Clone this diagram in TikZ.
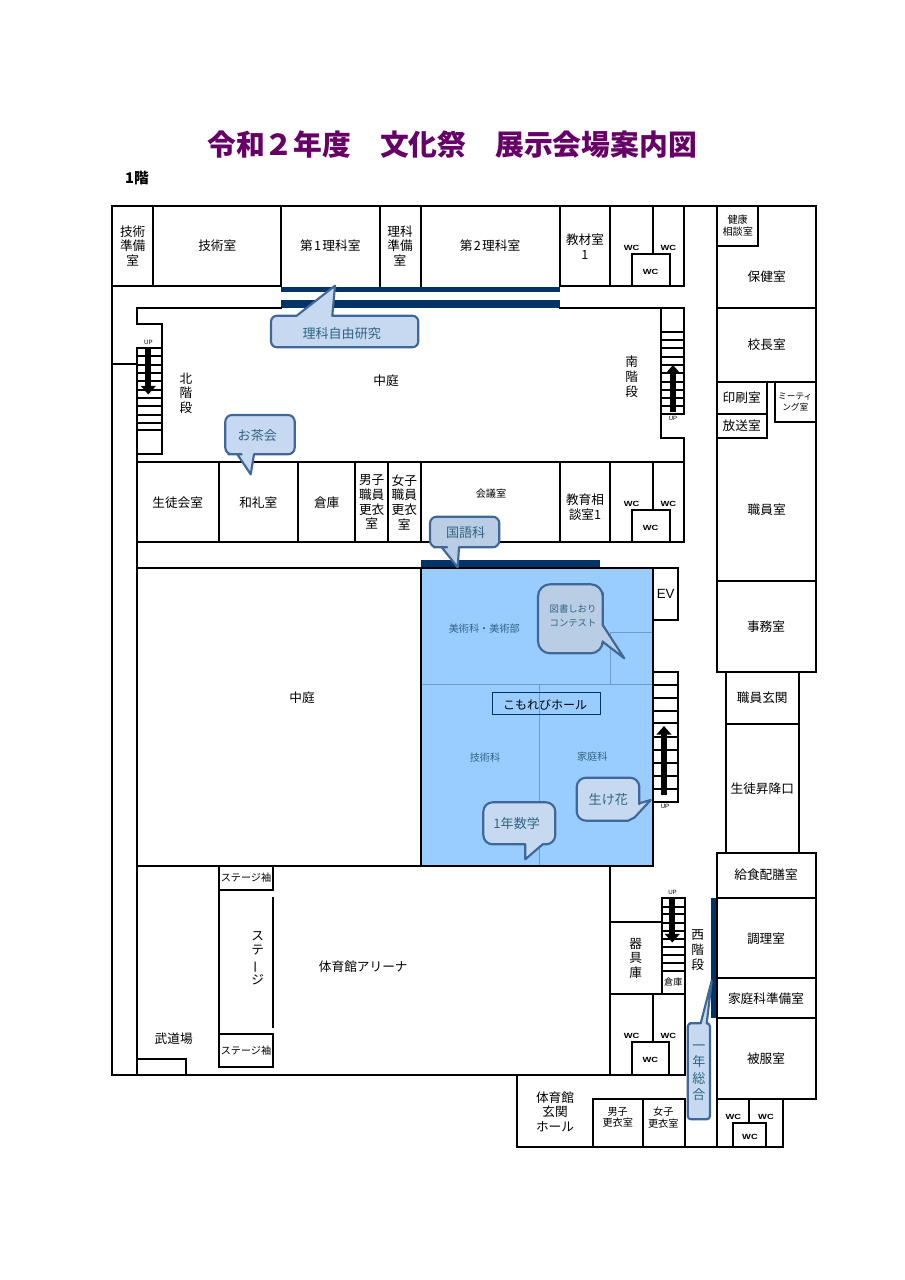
\documentclass[tikz,border=0pt]{standalone}
\usepackage{fontspec}
\usepackage{graphicx}
\usetikzlibrary{arrows.meta}
\setmainfont{Noto Sans CJK JP}
\newfontfamily\latinfont{Liberation Sans}
\definecolor{navybar}{HTML}{003366}
\definecolor{hallblue}{HTML}{99CCFF}
\definecolor{hallline}{HTML}{6C9BD2}
\definecolor{callline}{HTML}{3F6797}
\definecolor{callA}{HTML}{C6D9F1}
\definecolor{callB}{HTML}{B9CDE5}
\definecolor{calltext}{HTML}{2F6583}
\definecolor{titlepurple}{HTML}{660066}
\newcommand{\fsN}{\fontsize{9.5}{11}\selectfont}
\tikzset{
  wall/.style={draw=black,line width=1.5pt,line cap=rect,line join=miter},
  tread/.style={draw=black,line width=1.3pt},
  hallthin/.style={draw=hallline,line width=0.7pt},
  stairarrow/.style={line width=4.6pt,-{Triangle[width=11pt,length=6.5pt]},black},
  lab/.style={inner sep=0pt,align=center,font=\fsN,text=black},
  smalllab/.style={inner sep=0pt,align=center,font=\fontsize{7.6}{8.8}\selectfont,text=black},
  wclab/.style={inner sep=0pt,font=\latinfont\bfseries\fontsize{5.6}{6}\selectfont,xscale=1.25,text=black},
  uplab/.style={inner sep=0pt,font=\latinfont\fontsize{4.6}{5}\selectfont,text=black},
  callout/.style={draw=callline,line width=1.6pt,line join=round},
  calllab/.style={inner sep=0pt,align=center,text=calltext,font=\fontsize{9.8}{11}\selectfont},
  halllab/.style={inner sep=0pt,align=center,text=calltext,font=\fontsize{7.6}{9}\selectfont}
}
\begin{document}
\begin{tikzpicture}[x=0.75pt,y=-0.75pt]
\useasboundingbox (0,0) rectangle (904,1280);
\fill[white] (0,0) rectangle (904,1280);

% title
\node[inner sep=0pt,text=titlepurple,font=\bfseries\fontsize{21.6}{24}\selectfont] (title) at (452,145) {令和２年度　文化祭　展示会場案内図};
\node[inner sep=0pt,text=black,font=\bfseries\fontsize{11}{12}\selectfont] (floor) at (137,178) {1階};

% hall fill
\fill[hallblue] (421,568) rectangle (653,866);
\draw[hallthin] (421,684.5) -- (653,684.5);
\draw[hallthin] (539.5,684.5) -- (539.5,866);
\draw[hallthin] (610.3,684.5) -- (610.3,632.7) -- (653,632.7);

% navy bars
\fill[navybar] (281,286.5) rectangle (560,292);
\fill[navybar] (281,300) rectangle (560,308);
\fill[navybar] (421,560) rectangle (599.5,568);
\fill[navybar] (710.7,898) rectangle (717.3,1018);

% outer walls and top row
\draw[wall] (112,1075) -- (112,206.5) -- (815.5,206.5) -- (815.5,671.5);
\draw[wall] (112,286) -- (281,286);
\draw[wall] (560,286) -- (684,286);
\draw[wall] (153,206.5) -- (153,286);
\draw[wall] (281,206.5) -- (281,286);
\draw[wall] (380,206.5) -- (380,286);
\draw[wall] (420.7,206.5) -- (420.7,286);
\draw[wall] (560,206.5) -- (560,286);
\draw[wall] (610,206.5) -- (610,286);
\draw[wall] (653,206.5) -- (653,254);
\draw[wall] (684,206.5) -- (684,286);
\draw[wall] (631.7,286) -- (631.7,254) -- (669.5,254) -- (669.5,286);

% right block
\draw[wall] (717,206.5) -- (717,671.5) -- (815.5,671.5);
\draw[wall] (717,245.5) -- (758,245.5) -- (758,206.5);
\draw[wall] (717,308) -- (815.5,308);
\draw[wall] (717,381.5) -- (815.5,381.5);
\draw[wall] (766.5,381.5) -- (766.5,438) -- (717,438);
\draw[wall] (717,414) -- (766.5,414);
\draw[wall] (775,381.5) -- (775,422) -- (815.5,422);
\draw[wall] (717,581) -- (815.5,581);
\draw[wall] (725.7,671.5) -- (725.7,853);
\draw[wall] (799,671.5) -- (799,853);
\draw[wall] (725.7,723.5) -- (799,723.5);
\draw[wall] (717,1146.7) -- (717,853) -- (815.5,853) -- (815.5,1098.7) -- (717,1098.7);
\draw[wall] (717,898) -- (815.5,898);
\draw[wall] (717,978) -- (815.5,978);
\draw[wall] (717,1018) -- (815.5,1018);
\draw[wall] (782.7,1098.7) -- (782.7,1146.7);
\draw[wall] (749,1098.7) -- (749,1123);
\draw[wall] (733,1146.7) -- (733,1123) -- (766,1123) -- (766,1146.7);

% courtyard outline and north stairs
\draw[wall] (281,308) -- (137,308) -- (137,323.7) -- (161.7,323.7) -- (161.7,454) -- (137,454);
\draw[wall] (560,308) -- (684,308) -- (684,414);
\draw[wall] (661.3,308) -- (661.3,438) -- (684,438) -- (684,462);
\draw[wall] (137,347.7) -- (137,1075);
\draw[wall] (112,364) -- (137,364);
\draw[wall] (137,347.7) -- (161.7,347.7);
\foreach \yy in {356,365,373,381,390,398,406,415,423,430}
  \draw[tread] (137,\yy) -- (161.7,\yy);
\foreach \yy in {331.7,340,348,356.7,365,373,382,390,398,405.7,414}
  \draw[tread] (661.3,\yy) -- (684,\yy);

% second row
\draw[wall] (137,462) -- (684,462);
\draw[wall] (137,542) -- (684,542) -- (684,462);
\foreach \xx in {219,297.5,355,388,420.7,560,610}
  \draw[wall] (\xx,462) -- (\xx,542);
\draw[wall] (653,462) -- (653,510);
\draw[wall] (631.7,542) -- (631.7,510) -- (669.5,510) -- (669.5,542);

% hall and EV and stairs
\draw[wall] (137,568) -- (653,568);
\draw[wall] (421,568) -- (421,866);
\draw[wall] (653,568) -- (653,866);
\draw[wall] (137,866) -- (653,866);
\draw[wall] (653,568) -- (677.7,568) -- (677.7,619.5) -- (653,619.5);
\draw[wall] (653,671.7) -- (677.7,671.7) -- (677.7,801.7) -- (653,801.7);
\foreach \yy in {685,698.3,711,723.3,736.7,750,763.3,776,789.3}
  \draw[tread] (653,\yy) -- (677.7,\yy);
\draw[draw=navybar,line width=0.75pt,fill=none] (492,692) rectangle (600.7,714);

% gym
\draw[wall] (112,1075) -- (684.7,1075);
\draw[wall] (610,866) -- (610,1075);
\draw[wall] (610,922) -- (661.7,922);
\draw[wall] (661.7,898) -- (684.7,898) -- (684.7,1075);
\draw[wall] (661.7,898) -- (661.7,994.3);
\draw[wall] (610,994.3) -- (684.7,994.3);
\foreach \yy in {906.7,914.3,922.7,931,939,946.7,955.3,963.3,970.7}
  \draw[tread] (661.7,\yy) -- (684.7,\yy);
\draw[wall] (653,994.3) -- (653,1042.3);
\draw[wall] (631.7,1075) -- (631.7,1042.3) -- (669.3,1042.3) -- (669.3,1075);
\draw[wall] (218.7,866) -- (218.7,1066.7) -- (273.3,1066.7) -- (273.3,1034.3) -- (218.7,1034.3);
\draw[wall] (218.7,890) -- (273.3,890) -- (273.3,866);
\draw[wall] (272.7,898.3) -- (272.7,1026.7);
\draw[wall] (137,1059) -- (186,1059) -- (186,1075);

% entrance hall
\draw[wall] (517,1075) -- (517,1146.7) -- (782.7,1146.7);
\draw[wall] (592.7,1146.7) -- (592.7,1099) -- (684.7,1099) -- (684.7,1146.7);
\draw[wall] (642.7,1099) -- (642.7,1146.7);

% stair arrows
\draw[stairarrow] (148.3,347.7) -- (148.3,394.5);
\draw[stairarrow] (673,412) -- (673,365);
\draw[stairarrow] (664,795) -- (664,726);
\draw[stairarrow] (672.3,898) -- (672.3,942.5);
\node[uplab] (upa) at (148.5,342) {UP};
\node[uplab] (upb) at (673,418) {UP};
\node[uplab] (upc) at (665,806) {UP};
\node[uplab] (upd) at (672.5,892) {UP};

% room labels
\node[lab] (r1) at (132.7,246) {技術\\準備\\室};
\node[lab] (r2) at (217.3,246) {技術室};
\node[lab] (r3) at (330.3,246) {第\kern1pt 1\kern1pt 理科室};
\node[lab] (r4) at (400,246) {理科\\準備\\室};
\node[lab] (r5) at (490,246) {第\kern1pt 2\kern1pt 理科室};
\node[lab] (r6) at (585,246.7) {教材室\\1};
\node[wclab] (w1) at (631.7,247.7) {WC};
\node[wclab] (w2) at (668.3,247.7) {WC};
\node[wclab] (w3) at (650.7,271.7) {WC};
\node[smalllab] (r7) at (737.7,226) {健康\\相談室};
\node[lab] (r8) at (766.7,276.7) {保健室};
\node[lab] (r9) at (766.7,345) {校長室};
\node[lab] (r10) at (741.7,397.3) {印刷室};
\node[lab] (r11) at (741.7,425.7) {放送室};
\node[inner sep=0pt,align=center,font=\fontsize{6.5}{8.4}\selectfont] (r12) at (795.3,401.7) {ミーティ\\ング室};
\node[lab] (r13) at (766.7,509.3) {職員室};
\node[lab] (r14) at (766,626.7) {事務室};
\node[lab] (r15) at (762.3,697.3) {職員玄関};
\node[lab] (r16) at (762.3,788.3) {生徒昇降口};
\node[lab] (r17) at (766,875) {給食配膳室};
\node[lab] (r18) at (766,938.3) {調理室};
\node[lab] (r19) at (766,998.3) {家庭科準備室};
\node[lab] (r20) at (766,1059) {被服室};
\node[wclab] (w4) at (733.3,1116.7) {WC};
\node[wclab] (w5) at (766,1116.7) {WC};
\node[wclab] (w6) at (750,1136.7) {WC};
\node[lab] (r21) at (697.7,950) {西\\階\\段};
\node[lab] (r22) at (635.7,958.3) {器\\具\\庫};
\node[inner sep=0pt,font=\fontsize{6.8}{8}\selectfont] (r23) at (673.3,982.3) {倉庫};
\node[wclab] (w7) at (631.7,1036) {WC};
\node[wclab] (w8) at (668.3,1036) {WC};
\node[wclab] (w9) at (650.3,1060) {WC};
\node[lab] (r24) at (555,1111.7) {体育館\\玄関\\ホール};
\node[smalllab] (r25) at (617.7,1117.5) {男子\\更衣室};
\node[smalllab] (r26) at (663.3,1117.5) {女子\\更衣室};
\node[lab] (r27) at (186,393) {北\\階\\段};
\node[lab] (r28) at (386,381) {中庭};
\node[lab] (r29) at (631.7,376.7) {南\\階\\段};
\node[lab] (r30) at (177.7,502.3) {生徒会室};
\node[lab] (r31) at (258.3,502.3) {和礼室};
\node[lab] (r32) at (326.7,502.3) {倉庫};
\node[lab] (r33) at (371.7,502.2) {男子\\職員\\更衣\\室};
\node[lab] (r34) at (404.3,502.2) {女子\\職員\\更衣\\室};
\node[smalllab] (r35) at (491,494) {会議室};
\node[lab] (r36) at (585,507.5) {教育相\\談室1};
\node[wclab] (w10) at (631.7,504) {WC};
\node[wclab] (w11) at (668.3,504) {WC};
\node[wclab] (w12) at (650.7,527.7) {WC};
\node[lab] (r37) at (302,698) {中庭};
\node[inner sep=0pt,font=\latinfont\fontsize{10}{12}\selectfont] (ev) at (665.7,594.3) {EV};
\node[lab] (r38) at (173.7,1039) {武道場};
\node[lab] (r39) at (363.3,966.7) {体育館アリーナ};
\node[smalllab] (s1) at (246,878) {ステージ袖};
\node[smalllab] (s2) at (246,1050.5) {ステージ袖};
\node[lab] (s3) at (257.7,958) {ス\\テ\\\rotatebox[origin=c]{90}{ー}\\ジ};

% hall labels
\node[halllab] (h1) at (484.3,628.7) {美術科・美術部};
\node[halllab] (h2) at (485,758) {技術科};
\node[halllab] (h3) at (592.3,756.7) {家庭科};
\node[inner sep=0pt,font=\fontsize{9}{11}\selectfont] (h4) at (545,704.5) {こもれびホール};

% callouts
\draw[callout,fill=callA] (284,315.7) [sharp corners] -- (296.7,315.7) -- (335,285.7) -- (332.3,315.7) -- (370,315.7) [rounded corners=4.5pt] -- (418.3,315.7) -- (418.3,347.3) -- (271,347.3) -- (271,315.7) -- cycle;
\node[calllab] (c1) at (341.7,334) {理科自由研究};
\draw[callout,fill=callA] (235,454.3) [sharp corners] -- (237.3,454.3) -- (250.7,474.3) -- (254,454.3) -- (270,454.3) [rounded corners=5pt] -- (294.7,454.3) -- (294.7,415) -- (225.3,415) -- (225.3,454.3) -- cycle;
\node[calllab] (c2) at (257.3,435.7) {お茶会};
\draw[callout,fill=callB] (440.5,547.3) [sharp corners] -- (441.7,547.3) -- (457.7,567.3) -- (459,547.3) -- (480,547.3) [rounded corners=5pt] -- (499.3,547.3) -- (499.3,516.7) -- (430,516.7) -- (430,547.3) -- cycle;
\node[calllab] (c3) at (465.7,532.3) {国語科};
\draw[callout,fill=callB] (602.7,605) [sharp corners] -- (602.7,625) -- (624.3,658.3) -- (602.7,641.7) -- (602.7,644) [rounded corners=9pt] -- (602.7,653.3) -- (538,653.3) -- (538,584.3) -- (602.7,584.3) -- cycle;
\node[calllab,font=\fontsize{7}{10.8}\selectfont,text=calltext] (c4) at (573,616) {図書しおり\\コンテスト};
\draw[callout,fill=callA] (639.3,795) [sharp corners] -- (639.3,803.3) -- (650.7,800) -- (634.5,817.5) -- (628,820.7) [rounded corners=7pt] -- (576.7,820.7) -- (576.7,777.7) -- (639.3,777.7) -- cycle;
\node[calllab] (c5) at (608.3,800) {生け花};
\draw[callout,fill=callA] (510,844.3) [sharp corners] -- (525.3,844.3) -- (525.3,859.3) -- (542.7,844.3) -- (548,844.3) [rounded corners=7pt] -- (555.3,844.3) -- (555.3,802.3) -- (483.3,802.3) -- (483.3,844.3) -- cycle;
\node[calllab] (c6) at (516.7,824) {1年数学};
\draw[callout,fill=callA] (693,1023.3) [sharp corners] -- (700.7,1023.3) -- (711.7,980.7) -- (706.7,1023.3) -- (708,1023.3) [rounded corners=2.5pt] -- (710,1023.3) -- (710,1119.3) -- (687.7,1119.3) -- (687.7,1023.3) -- cycle;
\node[calllab,font=\fontsize{9.8}{12.4}\selectfont,text=calltext] (c7) at (699,1072.5) {一\\年\\総\\合};
\end{tikzpicture}
\end{document}
